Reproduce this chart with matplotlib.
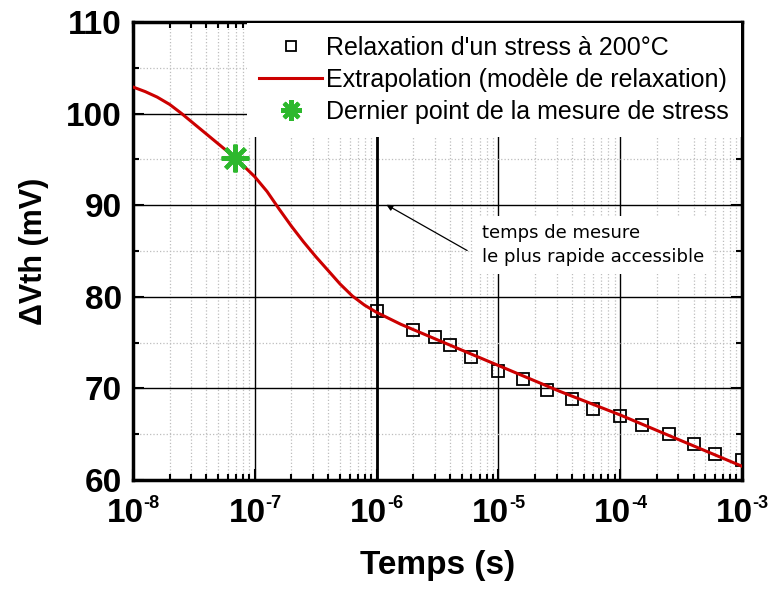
import numpy as np
import matplotlib
matplotlib.use('Agg')
import matplotlib.pyplot as plt
from matplotlib.ticker import LogLocator, MultipleLocator, NullFormatter

plt.rcParams['font.family'] = ['Liberation Sans', 'DejaVu Sans']

# Measured relaxation after a stress at 200°C
t_meas = [1e-6, 2e-6, 3e-6, 4e-6, 6e-6, 1e-5, 1.6e-5, 2.5e-5, 4e-5, 6e-5,
          1e-4, 1.5e-4, 2.5e-4, 4e-4, 6e-4, 1e-3]
dvth_meas = [78.4, 76.4, 75.6, 74.7, 73.4, 71.9, 71.0, 69.8, 68.8, 67.8,
             67.0, 66.0, 65.0, 63.9, 62.8, 62.2]

# Relaxation model (extrapolation)
t_model = [1e-8, 1.26e-8, 1.58e-8, 2e-8, 2.51e-8, 3.16e-8, 3.98e-8, 5.01e-8,
           6.31e-8, 7.94e-8, 1e-7, 1.26e-7, 1.58e-7, 2e-7, 2.51e-7, 3.16e-7,
           3.98e-7, 5.01e-7, 6.31e-7, 7.94e-7, 1e-6, 1.58e-6, 3.16e-6,
           1e-5, 3.16e-5, 1e-4, 3.16e-4, 1e-3]
dvth_model = [102.9, 102.4, 101.8, 101.0, 100.0, 98.9, 97.8, 96.7,
              95.6, 94.4, 93.1, 91.5, 89.6, 87.7, 86.0, 84.4,
              82.9, 81.4, 80.1, 79.1, 78.3, 77.0, 75.3,
              72.5, 69.7, 67.1, 64.3, 61.5]

# Last point of the stress measurement
t_last = [6.9e-8]
dvth_last = [95.2]

# Fastest accessible measurement time
t_fast = 1e-6

decades = [-8, -7, -6, -5, -4, -3]

labels = ["Relaxation d'un stress à 200°C",
          "Extrapolation (modèle de relaxation)",
          "Dernier point de la mesure de stress"]

fig = plt.figure(figsize=(7.71, 5.91), dpi=100)
ax = fig.add_axes([0.1725, 0.1878, 0.7899, 0.775])

ax.plot(t_meas, dvth_meas, 's', ms=9, mfc='none', mec='black', mew=1.3,
        label=labels[0], zorder=3)
ax.plot(t_model, dvth_model, '-', color='#cc0000', lw=2.2, label=labels[1], zorder=4)
ax.plot(t_last, dvth_last, ls='none', marker=(8, 2, 0), ms=20, mec='#2db82d',
        mew=3, label=labels[2], zorder=5)

ax.set_xscale('log')
ax.set_xlim(1e-8, 1e-3)
ax.set_ylim(60, 110)

ax.xaxis.set_major_locator(LogLocator(base=10, numticks=10))
ax.xaxis.set_minor_locator(LogLocator(base=10, subs=np.arange(2, 10), numticks=20))
ax.xaxis.set_minor_formatter(NullFormatter())
ax.yaxis.set_major_locator(MultipleLocator(10))
ax.yaxis.set_minor_locator(MultipleLocator(5))

ax.grid(which='major', color='black', lw=1.0, ls='-')
ax.grid(which='minor', color='#bdbdbd', lw=0.9, ls=':')
ax.axvline(t_fast, color='black', lw=2.0, zorder=1.5)
ax.set_axisbelow(True)

ax.tick_params(which='both', direction='in', top=True, right=True, width=1.5)
ax.tick_params(which='major', length=8)
ax.tick_params(which='minor', length=4)
ax.tick_params(axis='y', pad=8, labelsize=24)
ax.tick_params(axis='x', labelbottom=False)
for lab in ax.get_yticklabels():
    lab.set_fontweight('bold')
for s in ax.spines.values():
    s.set_linewidth(2.5)

# x tick labels: "10" with a small exponent
for d in decades:
    ax.annotate('10', xy=(10.0 ** d, 0), xycoords=('data', 'axes fraction'),
                xytext=(-19, -30), textcoords='offset points',
                ha='left', va='baseline', fontsize=24, fontweight='bold',
                annotation_clip=False)
    ax.annotate('%d' % d, xy=(10.0 ** d, 0), xycoords=('data', 'axes fraction'),
                xytext=(7.6, -20), textcoords='offset points',
                ha='left', va='baseline', fontsize=13, fontweight='bold',
                annotation_clip=False)

ax.set_xlabel('Temps (s)', fontsize=24, fontweight='bold', labelpad=47)
ax.set_ylabel('ΔVth (mV)', fontsize=22, fontweight='bold', labelpad=12)

leg = ax.legend(loc='upper right', fontsize=18, frameon=True, fancybox=False,
                borderaxespad=0.05, borderpad=0.5, labelspacing=0.33,
                handlelength=2.5, handletextpad=0.15, markerscale=0.75)
leg.get_frame().set_facecolor('white')
leg.get_frame().set_edgecolor('none')
leg.get_frame().set_alpha(1)

ax.annotate('', xy=(1.15e-6, 90.2), xytext=(5.8e-6, 84.9),
            arrowprops=dict(arrowstyle='-|>', color='black', lw=0.9,
                            mutation_scale=9), zorder=6)
ax.text(7.4e-6, 85.65, 'temps de mesure\nle plus rapide accessible',
        fontsize=13, family='DejaVu Sans', ha='left', va='center',
        linespacing=1.45, zorder=6,
        bbox=dict(boxstyle='square,pad=0.45', fc='white', ec='none'))

fig.savefig('out.png', dpi=100)
